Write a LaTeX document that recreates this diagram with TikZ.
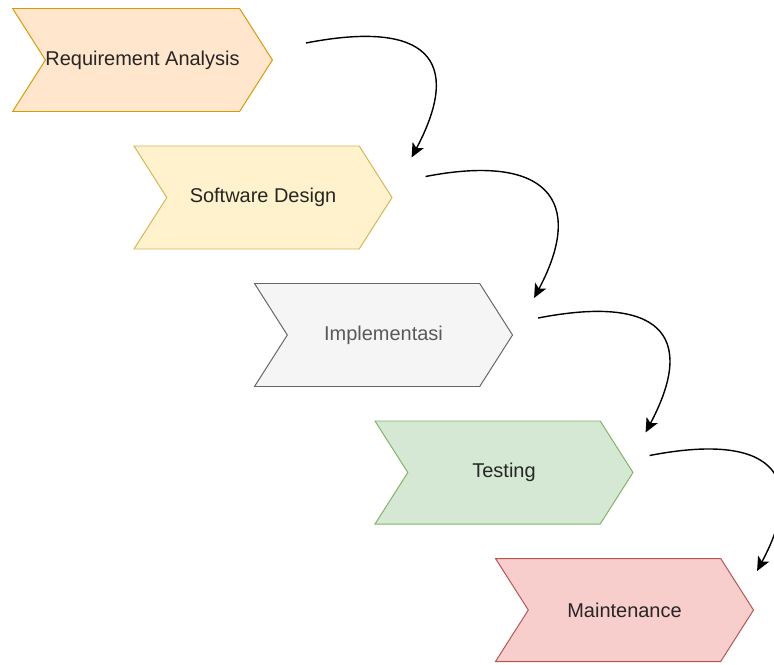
\documentclass[tikz,border=0pt]{standalone}
\usepackage{fontspec}
\setmainfont{Liberation Sans}
\usetikzlibrary{shapes.symbols,arrows.meta}

\definecolor{reqfill}{HTML}{FFE6CC}
\definecolor{reqline}{HTML}{D79B00}
\definecolor{desfill}{HTML}{FFF2CC}
\definecolor{desline}{HTML}{D6B656}
\definecolor{impfill}{HTML}{F5F5F5}
\definecolor{impline}{HTML}{666666}
\definecolor{tesfill}{HTML}{D5E8D4}
\definecolor{tesline}{HTML}{82B366}
\definecolor{mntfill}{HTML}{F8CECC}
\definecolor{mntline}{HTML}{B85450}

\begin{document}
\begin{tikzpicture}[
    stage/.style={signal, signal from=west, signal to=east, signal pointer angle=115,
                  minimum width=6.45cm, minimum height=2.575cm, inner sep=0pt,
                  line width=0.7pt, font=\fontsize{14.2}{17}\selectfont, text=black!85},
    flow/.style={-{Stealth[length=10pt, width=9pt, inset=2.5pt]}, line width=1pt, draw=black}
]
\useasboundingbox (0,0) rectangle (19.35,-16.6);

% Tahapan
\node[stage, fill=reqfill, draw=reqline] at (3.5625,-1.5) (req) {Requirement Analysis};
\node[stage, fill=desfill, draw=desline] at (6.575,-4.9375) (design) {Software Design};
\node[stage, fill=impfill, draw=impline, text=black!65] at (9.5875,-8.375) (impl) {Implementasi};
\node[stage, fill=tesfill, draw=tesline] at (12.6,-11.8125) (test) {Testing};
\node[stage, fill=mntfill, draw=mntline] at (15.6125,-15.25) (maint) {Maintenance};

% Alur antar tahapan
\draw[flow] ([shift={(0.825,0.425)}]req.east) .. controls +(11:3.05) and +(62:2.8) ..
    ([shift={(0.475,1.0)}]design.east);
\draw[flow] ([shift={(0.825,0.525)}]design.east) .. controls +(11:3.05) and +(62:2.8) ..
    ([shift={(0.525,0.925)}]impl.east);
\draw[flow] ([shift={(0.625,0.425)}]impl.east) .. controls +(11:3.05) and +(62:2.8) ..
    ([shift={(0.3,1.0)}]test.east);
\draw[flow] ([shift={(0.4,0.425)}]test.east) .. controls +(11:3.05) and +(62:2.8) ..
    ([shift={(0.075,0.975)}]maint.east);

\end{tikzpicture}
\end{document}
